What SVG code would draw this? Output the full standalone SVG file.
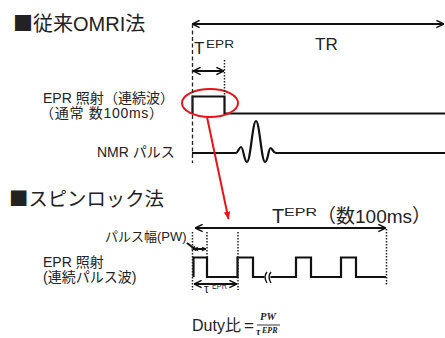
<svg xmlns="http://www.w3.org/2000/svg" width="445" height="338" viewBox="0 0 445 338">
<style>
.t{font-family:"Liberation Sans","Noto Sans CJK JP",sans-serif;fill:#222}
.sq{font-family:"Noto Sans CJK JP",sans-serif}
.m{font-family:"Liberation Serif","DejaVu Serif",serif;font-style:italic;font-weight:bold;fill:#222}
.w{fill:none;stroke:#111;stroke-width:2.2;stroke-linejoin:miter}
.ar{fill:none;stroke:#111;stroke-width:2}
.dash{fill:none;stroke:#222;stroke-width:1.3;stroke-dasharray:4 2.5}
.dot{fill:none;stroke:#222;stroke-width:1.5;stroke-dasharray:1.5 1.5}
.red{fill:none;stroke:#e8141a;stroke-width:2}
</style>
<defs>
<marker id="ah" viewBox="0 0 10 10" refX="9.5" refY="5" markerWidth="9" markerHeight="9" markerUnits="userSpaceOnUse" orient="auto-start-reverse"><path d="M1,1 L9.5,5 L1,9" fill="none" stroke="#111" stroke-width="1.7"/></marker>
<marker id="ahs" viewBox="0 0 10 10" refX="9.5" refY="5" markerWidth="5" markerHeight="5" markerUnits="userSpaceOnUse" orient="auto-start-reverse"><path d="M1,1 L9.5,5 L1,9" fill="none" stroke="#111" stroke-width="2"/></marker>
<marker id="ahr" viewBox="0 0 10 10" refX="9" refY="5" markerWidth="8" markerHeight="8" markerUnits="userSpaceOnUse" orient="auto"><path d="M0,1 L10,5 L0,9 Z" fill="#e8141a"/></marker>
</defs>

<g id="title-omri"><text class="t" x="13" y="31" font-size="20"><tspan class="sq">■</tspan>従来OMRI法</text></g>
<g id="title-spinlock"><text class="t" x="9" y="206" font-size="19.5" textLength="155" lengthAdjust="spacingAndGlyphs"><tspan class="sq">■</tspan>スピンロック法</text></g>

<g id="label-tr"><text class="t" x="315" y="50" font-size="17">TR</text></g>
<g id="label-tepr-top"><text class="t" x="194" y="54" font-size="17">T</text><text class="t" x="206" y="48" font-size="10.5" textLength="28" lengthAdjust="spacingAndGlyphs">EPR</text></g>
<g id="label-epr-cw"><text class="t" x="43" y="103" font-size="14" textLength="131" lengthAdjust="spacing">EPR 照射（連続波）</text><text class="t" x="40" y="118" font-size="14" textLength="123" lengthAdjust="spacing">（通常 数100ms）</text></g>
<g id="label-nmr"><text class="t" x="97" y="157" font-size="14">NMR パルス</text></g>

<g id="label-tepr-bottom"><text class="t" x="272" y="223" font-size="20">T</text><text class="t" x="284" y="216" font-size="11.5" textLength="33" lengthAdjust="spacingAndGlyphs">EPR</text><text class="t" x="317" y="223" font-size="19">（数100ms）</text></g>
<g id="label-pw"><text class="t" x="105" y="241" font-size="13">パルス幅(PW)</text></g>
<g id="label-epr-pulse"><text class="t" x="43" y="267" font-size="14">EPR 照射</text><text class="t" x="43" y="282" font-size="14">(連続パルス波)</text></g>
<g id="label-tau"><text class="t" x="204" y="293" font-size="12">τ</text><text class="t" x="212" y="289" font-size="8.5" textLength="15" lengthAdjust="spacingAndGlyphs">EPR</text></g>

<g id="duty-formula">
<text class="t" x="192" y="331" font-size="16">Duty比</text>
<text class="t" x="244" y="331" font-size="17">=</text>
<text class="m" x="260" y="320" font-size="10.5">PW</text>
<line x1="257" y1="325" x2="280" y2="325" stroke="#222" stroke-width="0.9"/>
<text class="m" x="256" y="335" font-size="10">τ</text>
<text class="m" x="262" y="333" font-size="8">EPR</text>
</g>

<g id="waveform-epr-cw"><path class="w" d="M192.5,113.5 V96.5 H224.5 V113.5 H445"/></g>
<g id="waveform-nmr"><path class="w" d="M192,153 H236 C238,153 239,147 241,147 C243.5,147 244,162 247,162 C250.5,162 252.5,121 256,121 C259.5,121 261.5,162 265,162 C268,162 268.5,148 270.5,148 C272.5,148 273,153 276,153 H445"/></g>
<g id="waveform-epr-pulse"><path class="w" d="M193.5,277 V257.5 H207 V277 H237.5 V257.5 H253 V277 H264.5 M270.5,277 H296 V257.5 H311 V277 H341 V257.5 H356 V277 H386"/>
<path d="M267,272 C264.5,275 264.5,279 267,283 M271,272 C268.5,275 268.5,279 271,283" fill="none" stroke="#111" stroke-width="1.4"/></g>
<g id="highlight"><ellipse class="red" cx="210" cy="103" rx="28" ry="14"/></g>

<g id="connectors">
<line class="ar" x1="192" y1="24" x2="444" y2="24" marker-start="url(#ah)" marker-end="url(#ah)"/>
<line class="dash" x1="192.5" y1="24" x2="192.5" y2="163"/>
<line class="dot" x1="224.5" y1="60" x2="224.5" y2="96"/>
<line class="ar" x1="193" y1="71" x2="224" y2="71" stroke-width="1.8" marker-start="url(#ah)" marker-end="url(#ah)"/>
<line class="red" x1="207" y1="117" x2="228.5" y2="219" marker-end="url(#ahr)"/>
<line class="ar" x1="195" y1="228" x2="386" y2="228" marker-start="url(#ah)" marker-end="url(#ah)"/>
<line class="dot" x1="386.5" y1="229" x2="386.5" y2="285"/>
<line class="dot" x1="192.5" y1="232" x2="192.5" y2="290"/>
<line class="dot" x1="207" y1="232" x2="207" y2="257"/>
<line class="dot" x1="238" y1="232" x2="238" y2="290"/>
<line class="ar" x1="194" y1="249" x2="206" y2="249" stroke-width="1.2" marker-start="url(#ahs)" marker-end="url(#ahs)"/>
<line class="ar" x1="187" y1="243" x2="196" y2="250" stroke-width="1.1" marker-end="url(#ahs)"/>
<line class="ar" x1="194" y1="284" x2="237" y2="284" stroke-width="1.4" marker-start="url(#ah)" marker-end="url(#ah)"/>
</g>
</svg>
